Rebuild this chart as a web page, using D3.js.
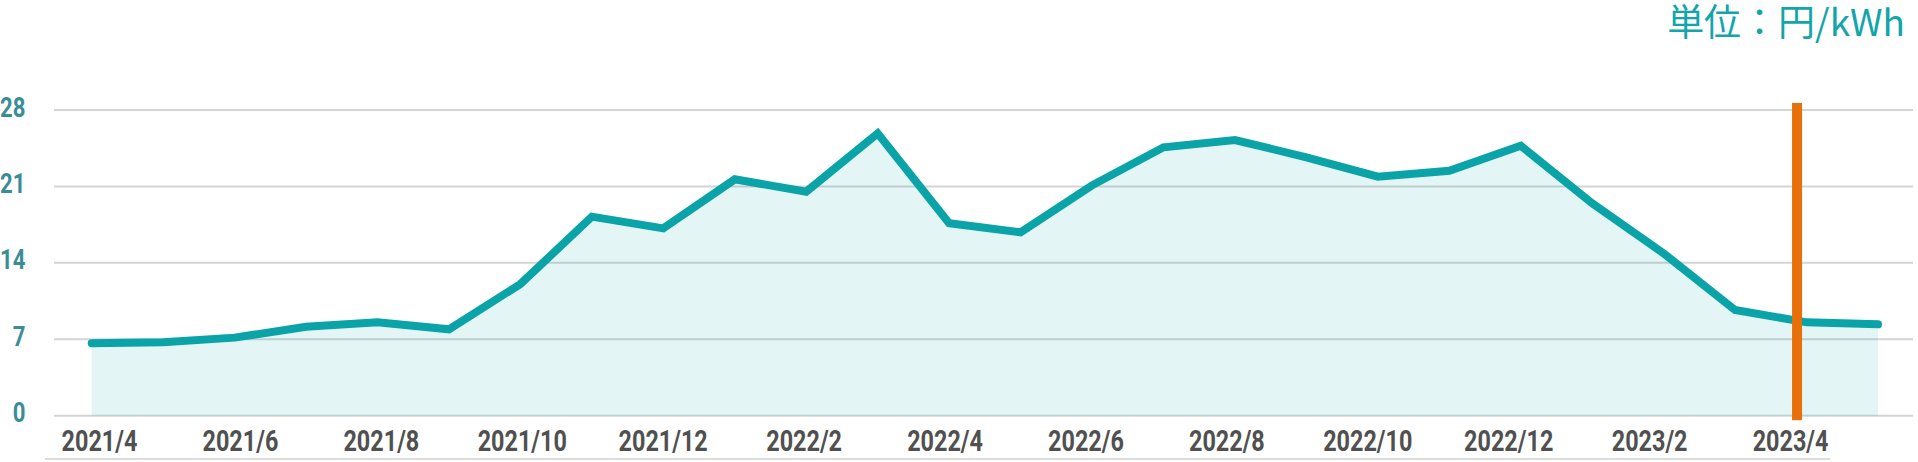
<!DOCTYPE html>
<html>
<head>
<meta charset="utf-8">
<script src="https://cdn.jsdelivr.net/npm/d3@7"></script>
<style>
  html, body { margin: 0; padding: 0; background: #fff; }
  svg { display: block; }
</style>
</head>
<body>
<svg id="chart" width="1918" height="462"></svg>
<script>
// ---- data ----
const months = [
  "2021/4","2021/5","2021/6","2021/7","2021/8","2021/9","2021/10","2021/11","2021/12",
  "2022/1","2022/2","2022/3","2022/4","2022/5","2022/6","2022/7","2022/8","2022/9",
  "2022/10","2022/11","2022/12","2023/1","2023/2","2023/3","2023/4","2023/5"
];
const prices = [
  6.63, 6.72, 7.15, 8.15, 8.55, 7.91, 12.06, 18.23, 17.16,
  21.65, 20.52, 25.86, 17.62, 16.80, 21.10, 24.58, 25.25, 23.67,
  21.89, 22.44, 24.73, 19.45, 14.87, 9.68, 8.55, 8.37
];
const yTicks = [0, 7, 14, 21, 28];
const xTickLabels = months.filter((m, i) => i % 2 === 0 && i < 25);
const markerMonth = "2023/4";
const unitLabel = "単位：円/kWh";

// ---- layout ----
const svg = d3.select("#chart");
const x = d3.scalePoint().domain(months).range([91.7, 1878]);
const xLab = d3.scalePoint().domain(months).range([99, 1860.5]);
const y = d3.scaleLinear().domain([0, 28]).range([415.7, 110]);

// gridlines
svg.append("g")
  .selectAll("line")
  .data(yTicks)
  .join("line")
  .attr("x1", 54).attr("x2", 1913)
  .attr("y1", d => y(d)).attr("y2", d => y(d))
  .attr("stroke", "#d4d4d4")
  .attr("stroke-width", 2);

// area
const area = d3.area()
  .x((d, i) => x(months[i]))
  .y0(y(0))
  .y1(d => y(d));
svg.append("path")
  .datum(prices)
  .attr("d", area)
  .attr("fill", "rgb(10,163,168)")
  .attr("fill-opacity", 0.11);

// line
const line = d3.line()
  .x((d, i) => x(months[i]))
  .y(d => y(d));
svg.append("path")
  .datum(prices)
  .attr("d", line)
  .attr("fill", "none")
  .attr("stroke", "#0aa3a8")
  .attr("stroke-width", 8)
  .attr("stroke-linecap", "round")
  .attr("stroke-linejoin", "miter");

// marker (orange vertical bar)
svg.append("rect")
  .attr("x", x(markerMonth) - 9.5 - 5)
  .attr("y", y(28) - 7)
  .attr("width", 10)
  .attr("height", y(0) - y(28) + 11.5)
  .attr("fill", "#e8700a");

// bottom faint line
svg.append("line")
  .attr("x1", 45).attr("x2", 1830)
  .attr("y1", 459).attr("y2", 459)
  .attr("stroke", "#dcdcdc")
  .attr("stroke-width", 2);

// x axis
const xAxis = d3.axisBottom(xLab).tickValues(xTickLabels).tickSize(0).tickPadding(0);
const gx = svg.append("g").attr("transform", "translate(0,451)").call(xAxis);
gx.select(".domain").remove();
gx.selectAll("text")
  .attr("y", 0).attr("dy", null)
  .attr("transform", "scale(0.78,1)")
  .attr("font-family", "Roboto, sans-serif")
  .attr("font-weight", 700)
  .attr("font-size", 30)
  .attr("fill", "#505050");

// y axis
const yAxis = d3.axisLeft(y).tickValues(yTicks).tickSize(0).tickPadding(0);
const gy = svg.append("g").attr("transform", "translate(25.5,0)").call(yAxis);
gy.select(".domain").remove();
gy.selectAll("text")
  .attr("x", 0).attr("y", 6).attr("dy", null)
  .attr("text-anchor", "end")
  .attr("transform", "scale(0.82,1)")
  .attr("font-family", "Roboto, sans-serif")
  .attr("font-weight", 700)
  .attr("font-size", 27)
  .attr("fill", "#3a8d96");

// unit label
svg.append("text")
  .attr("x", 1905).attr("y", 36)
  .attr("text-anchor", "end")
  .attr("font-family", "'Noto Sans CJK JP', sans-serif")
  .attr("font-size", 37)
  .attr("fill", "#12a5aa")
  .text(unitLabel);
</script>
</body>
</html>
